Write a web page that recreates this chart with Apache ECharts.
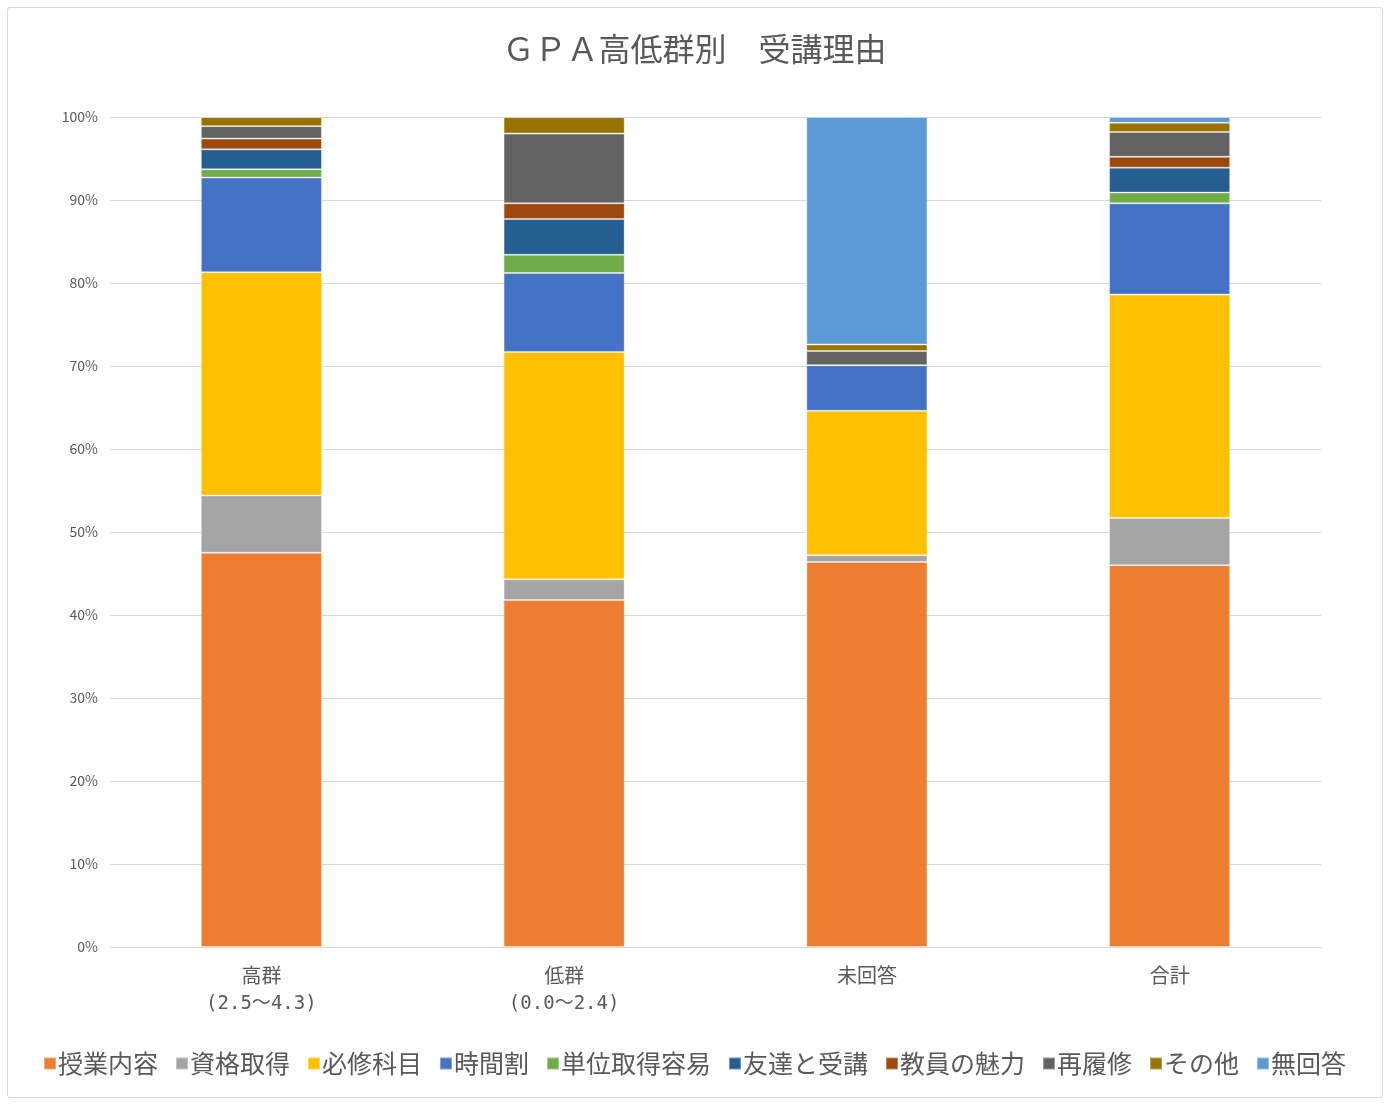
<!DOCTYPE html>
<html><head><meta charset="utf-8">
<script src="https://cdn.jsdelivr.net/npm/echarts@6/dist/echarts.min.js"></script>
<style>
html,body{margin:0;padding:0;background:#fff;}
#frame{position:absolute;left:7px;top:7px;width:1374px;height:1089px;border:1px solid #d9d9d9;border-radius:3px;}
#c{position:absolute;left:0;top:0;width:1389px;height:1104px;}
</style>
</head><body>
<div id="frame"></div>
<div id="c"></div>
<script>
const categories = ['高群', '低群', '未回答', '合計'];
const subLabels = ['(2.5～4.3)', '(0.0～2.4)', '', ''];
const seriesNames = ['授業内容','資格取得','必修科目','時間割','単位取得容易','友達と受講','教員の魅力','再履修','その他','無回答'];
const jugyoNaiyo   = [47.5, 41.8, 46.4, 46.0];
const shikakuShutoku = [6.9, 2.5, 0.8, 5.7];
const hisshuKamoku = [26.9, 27.4, 17.4, 26.9];
const jikanwari    = [11.4, 9.5, 5.5, 11.0];
const tanniYoui    = [1.0, 2.2, 0, 1.3];
const tomodachi    = [2.4, 4.3, 0, 3.0];
const kyoinMiryoku = [1.3, 1.9, 0, 1.3];
const sairishu     = [1.5, 8.4, 1.7, 3.0];
const sonota       = [1.1, 2.0, 0.8, 1.1];
const mukaito      = [0, 0, 27.4, 0.7];
const yTicks = ['0%','10%','20%','30%','40%','50%','60%','70%','80%','90%','100%'];

const values = [jugyoNaiyo, shikakuShutoku, hisshuKamoku, jikanwari, tanniYoui, tomodachi, kyoinMiryoku, sairishu, sonota, mukaito];
const colors = ['#ED7D31','#A5A5A5','#FFC000','#4472C4','#70AD47','#255E91','#9E480E','#636363','#997300','#5B9BD5'];
const FONT = '"Noto Sans CJK JP", "Noto Sans", sans-serif';
const MONO = '"DejaVu Sans Mono", "Noto Sans CJK JP", monospace';

const chart = echarts.init(document.getElementById('c'), null, {renderer:'canvas'});
chart.setOption({
  animation: false,
  textStyle: {fontFamily: FONT},
  title: {
    text: 'ＧＰＡ高低群別　受講理由',
    left: 'center', top: 28,
    textStyle: {fontFamily: FONT, fontSize: 32, fontWeight: 'normal', color: '#595959'}
  },
  legend: {
    bottom: 23, left: 'center',
    itemWidth: 12, itemHeight: 12, itemGap: 17,
    icon: 'rect',
    textStyle: {fontFamily: FONT, fontSize: 25, color: '#595959', padding: [0,0,0,-3]},
    data: seriesNames
  },
  grid: {left: 110, right: 68, top: 117, bottom: 157},
  xAxis: {
    type: 'category', data: categories,
    axisLine: {lineStyle: {color: '#d9d9d9', width: 1}},
    axisTick: {show: false},
    axisLabel: {
      color: '#595959', margin: 14,
      formatter: function(v, idx){
        const s = subLabels[idx];
        return s ? '{a|' + v + '}\n{b|' + s + '}' : '{a|' + v + '}';
      },
      rich: {
        a: {fontFamily: FONT, fontSize: 20, color: '#595959', lineHeight: 29},
        b: {fontFamily: MONO, fontSize: 19, color: '#595959', lineHeight: 29}
      }
    }
  },
  yAxis: {
    type: 'value', min: 0, max: 100, interval: 10,
    axisLine: {show: false}, axisTick: {show: false},
    splitLine: {lineStyle: {color: '#d9d9d9', width: 1}},
    axisLabel: {fontFamily: FONT, fontSize: 14, color: '#595959', margin: 12,
      formatter: function(v){ return yTicks[Math.round(v/10)]; }}
  },
  series: seriesNames.map((n,i)=>({
    name: n, type: 'bar', stack: 'total', barWidth: '40%',
    data: values[i],
    itemStyle: {color: colors[i], borderColor: 'rgba(255,255,255,0.35)', borderWidth: 1}
  }))
});
</script>
</body></html>
